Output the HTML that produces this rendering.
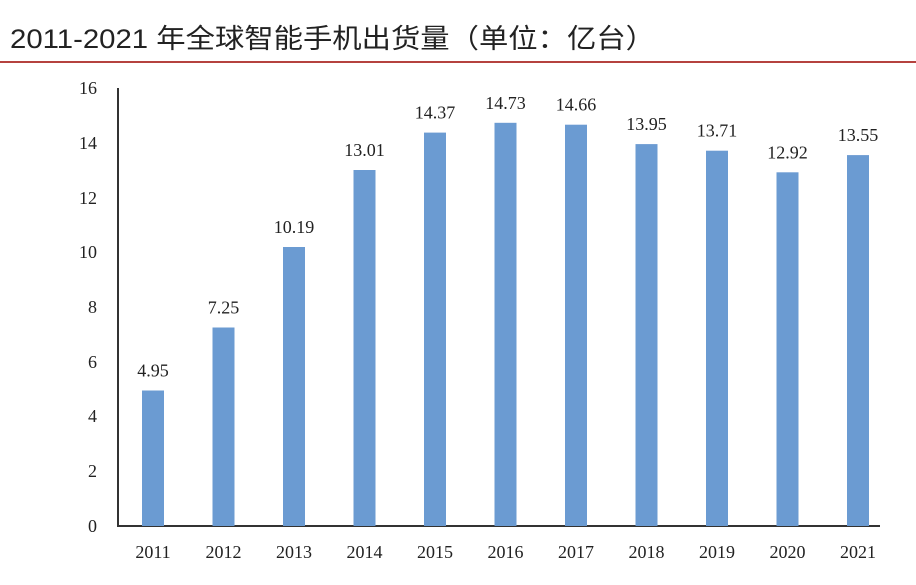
<!DOCTYPE html>
<html><head><meta charset="utf-8"><style>
body{margin:0;width:916px;height:580px;background:#fff;overflow:hidden}
</style></head><body>
<svg width="916" height="580" xmlns="http://www.w3.org/2000/svg">
<text x="10" y="48" font-family="Liberation Sans, Noto Sans CJK SC, sans-serif" font-size="27" fill="#222" textLength="645" lengthAdjust="spacingAndGlyphs">2011-2021 年全球智能手机出货量（单位：亿台）</text>
<rect x="0" y="61" width="916" height="2" fill="#b5423f"/>
<g font-family="Liberation Serif, serif" font-size="18" fill="#222">
<line x1="118" y1="88" x2="118" y2="527" stroke="#333" stroke-width="2"/>
<line x1="117" y1="526" x2="880" y2="526" stroke="#333" stroke-width="2"/>
<g text-anchor="end">
<text x="97" y="532">0</text><text x="97" y="477">2</text><text x="97" y="422">4</text><text x="97" y="368">6</text>
<text x="97" y="313">8</text><text x="97" y="258">10</text><text x="97" y="204">12</text><text x="97" y="149">14</text><text x="97" y="94">16</text>
</g>
<g fill="#6b9bd2">
<rect x="142" y="390.5" width="22" height="135.5"/>
<rect x="212.5" y="327.5" width="22" height="198.5"/>
<rect x="283" y="247" width="22" height="279"/>
<rect x="353.5" y="170" width="22" height="356"/>
<rect x="424" y="132.6" width="22" height="393.4"/>
<rect x="494.5" y="122.8" width="22" height="403.2"/>
<rect x="565" y="124.7" width="22" height="401.3"/>
<rect x="635.5" y="144.1" width="22" height="381.9"/>
<rect x="706" y="150.7" width="22" height="375.3"/>
<rect x="776.5" y="172.3" width="22" height="353.7"/>
<rect x="847" y="155.1" width="22" height="370.9"/>
</g>
<g text-anchor="middle">
<text x="153" y="376.5">4.95</text>
<text x="223.5" y="313.5">7.25</text>
<text x="294" y="233">10.19</text>
<text x="364.5" y="156">13.01</text>
<text x="435" y="118.6">14.37</text>
<text x="505.5" y="108.8">14.73</text>
<text x="576" y="110.7">14.66</text>
<text x="646.5" y="130.1">13.95</text>
<text x="717" y="136.7">13.71</text>
<text x="787.5" y="158.3">12.92</text>
<text x="858" y="141.1">13.55</text>
</g>
<g text-anchor="middle">
<text x="153" y="558">2011</text><text x="223.5" y="558">2012</text><text x="294" y="558">2013</text>
<text x="364.5" y="558">2014</text><text x="435" y="558">2015</text><text x="505.5" y="558">2016</text>
<text x="576" y="558">2017</text><text x="646.5" y="558">2018</text><text x="717" y="558">2019</text>
<text x="787.5" y="558">2020</text><text x="858" y="558">2021</text>
</g>
</g>
</svg>
</body></html>
